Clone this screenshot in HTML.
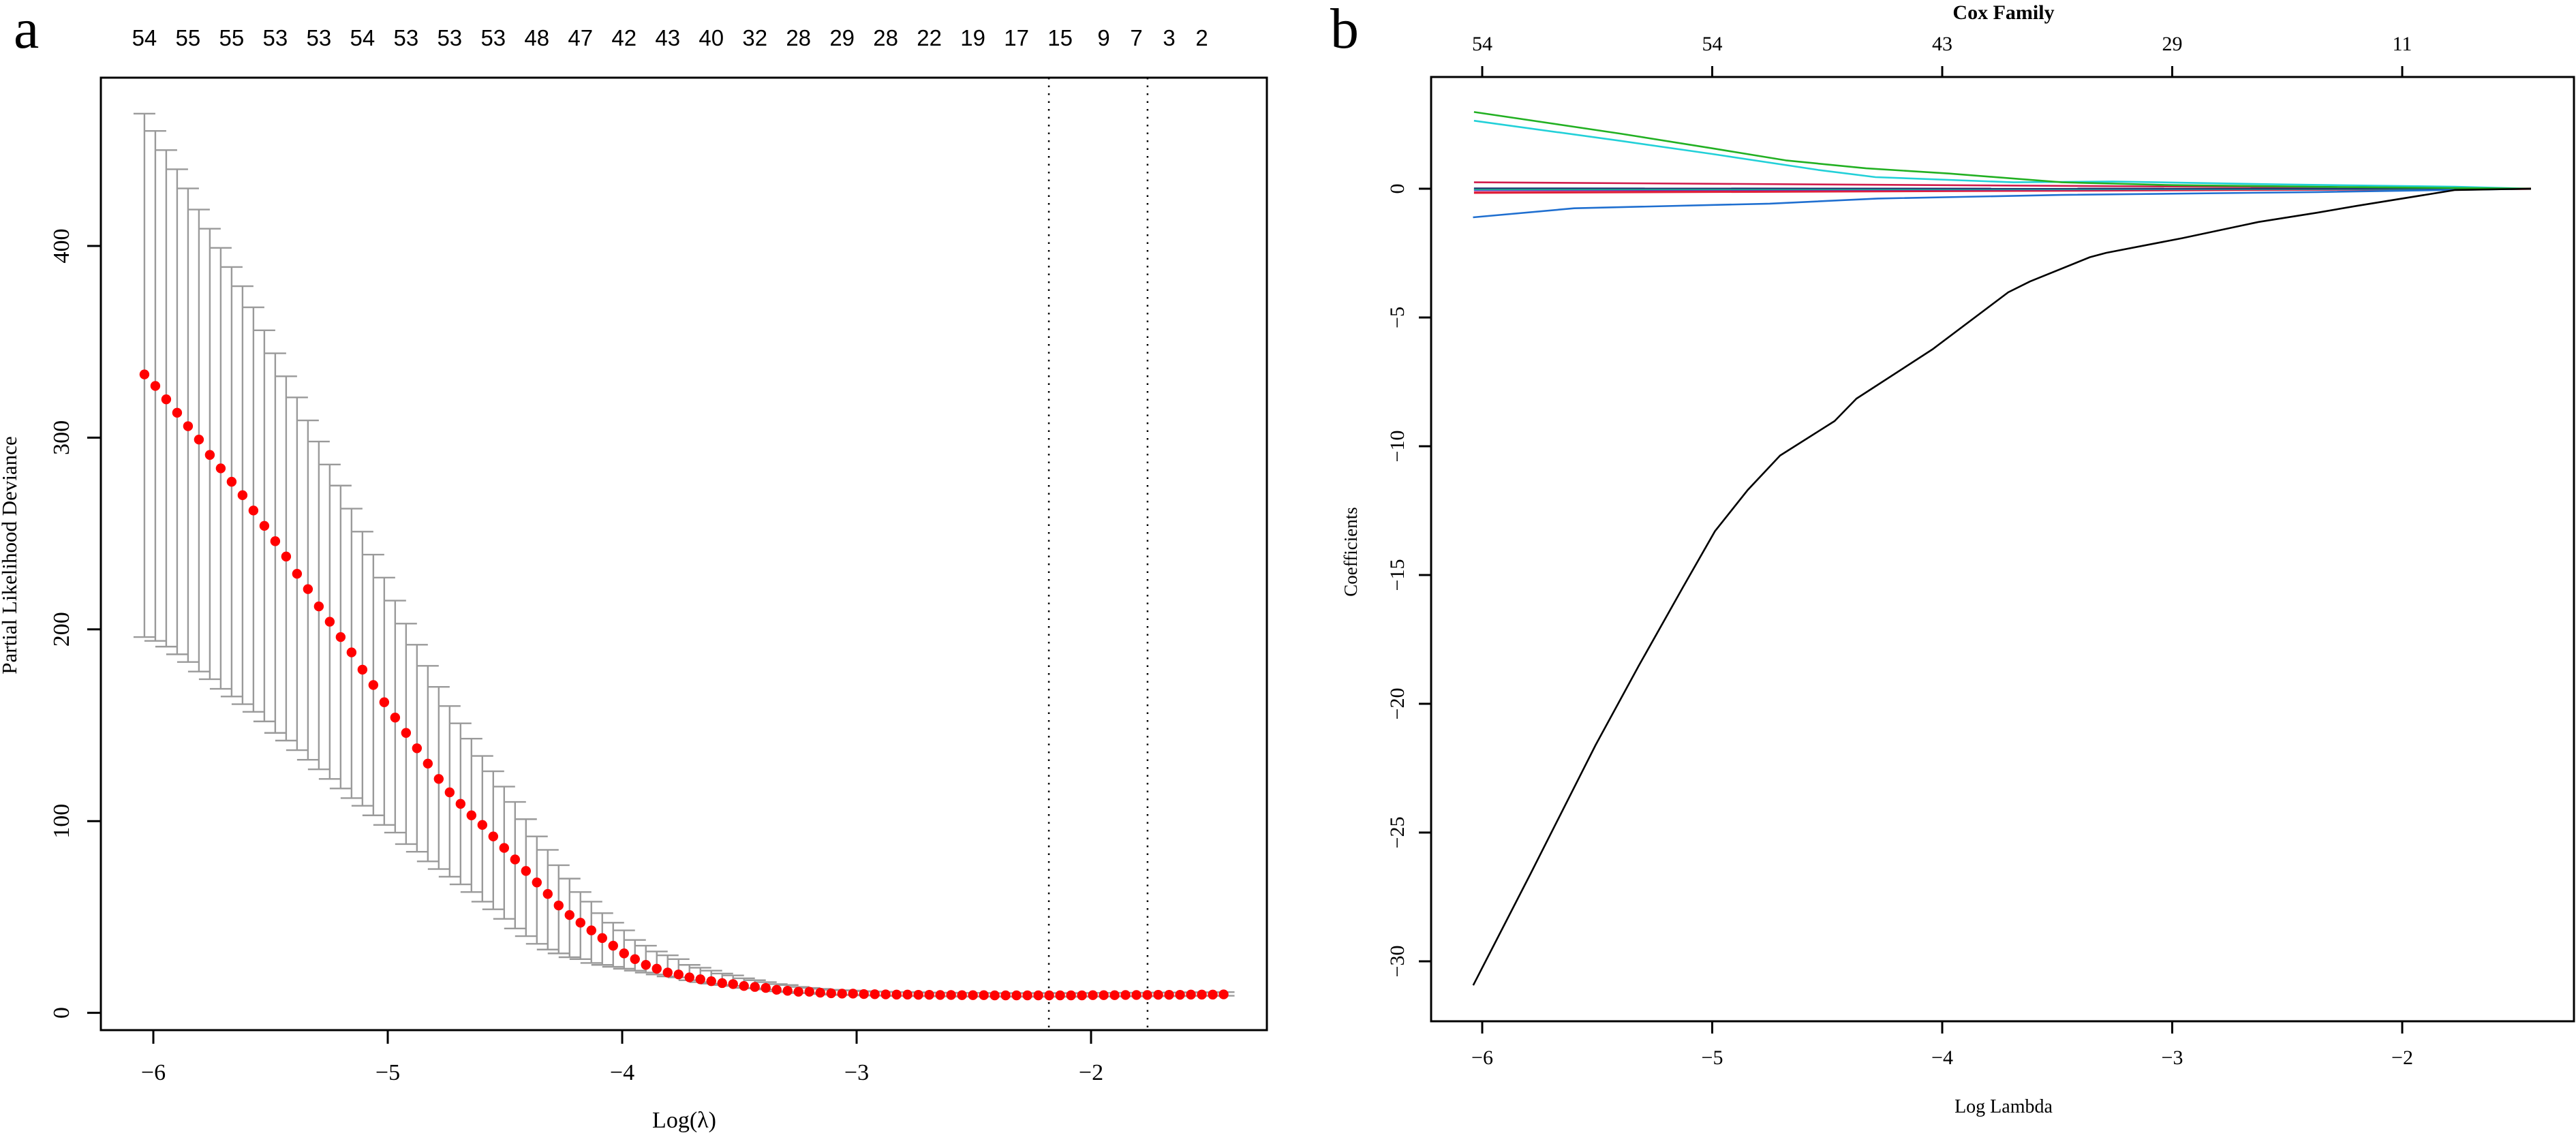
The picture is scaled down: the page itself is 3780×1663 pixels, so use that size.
<!DOCTYPE html>
<html><head><meta charset="utf-8"><style>
html,body{margin:0;padding:0;background:#fff;}
svg{display:block;}
.serif{font-family:"Liberation Serif",serif;}
.sans{font-family:"Liberation Sans",sans-serif;}
</style></head>
<body>
<svg id="fig" width="3780" height="1663" viewBox="0 0 3780 1663" xmlns="http://www.w3.org/2000/svg">
<rect width="3780" height="1663" fill="#fff"/>
<text x="20" y="70" class="serif" font-size="84">a</text>
<text x="1952" y="70" class="serif" font-size="84">b</text>
<g id="pa"></g>
<g id="pb"></g>
</svg>
<script>
// ---------- Panel A data ----------
const aStart = -6.038;
const aStep = 0.0465;
const aMean = [333,327,320,313,306,299,291,284,277,270,262,254,246,238,229,221,212,204,196,188,179,171,162,154,146,138,130,122,115,109,103,98,92,86,80,74,68,62,56,51,47,43,39,35,31,28,25,23,21,20,18.5,17.5,16.5,15.5,15,14,13.5,13,12,11.5,11,11,10.5,10.2,10,10,9.8,9.7,9.6,9.5,9.5,9.4,9.4,9.3,9.3,9.2,9.2,9.2,9.1,9.1,9.1,9.1,9.1,9.1,9.1,9.1,9.1,9.2,9.2,9.2,9.3,9.3,9.3,9.4,9.4,9.4,9.5,9.5,9.5,9.6];
const aUpper = [469,460,450,440,430,419,409,399,389,379,368,356,344,332,321,309,298,286,275,263,251,239,227,215,203,192,181,170,160,151,143,134,126,118,110,101,92,85,77,70,63,58,52,47,43,38,35,32,30,28,25,23.5,22,20.5,19.5,18,17,16,15,14.5,13.5,13,12.5,12,11.8,11.6,11.3,11.1,11,10.8,10.8,10.7,10.6,10.5,10.5,10.4,10.4,10.4,10.3,10.3,10.3,10.3,10.3,10.3,10.3,10.3,10.3,10.4,10.4,10.4,10.5,10.5,10.5,10.6,10.6,10.6,10.7,10.7,10.7,10.8];
const aLower = [196,194,191,187,183,178,174,169,165,161,157,152,146,142,137,132,127,122,117,112,108,103,98,94,88,84,79,75,71,67,63,58,54,49,44,40,36,33,31,29,28,26,25,24,23,22,21,20,19,18.5,17,16,15.2,14.5,14,13,12.7,12.2,11.2,10.8,10.3,10.3,9.8,9.5,9.3,9.3,9.1,9.0,8.9,8.8,8.8,8.7,8.7,8.6,8.6,8.5,8.5,8.5,8.4,8.4,8.4,8.4,8.4,8.4,8.4,8.4,8.4,8.5,8.5,8.5,8.6,8.6,8.6,8.7,8.7,8.7,8.8,8.8,8.8,8.9];
const aTopIdx = [0,4,8,12,16,20,24,28,32,36,40,44,48,52,56,60,64,68,72,76,80,84,88,91,94,97];
const aTopLabels = ["54","55","55","53","53","54","53","53","53","48","47","42","43","40","32","28","29","28","22","19","17","15","9","7","3","2"];
const aXTicks = [-6,-5,-4,-3,-2];
const aYTicks = [0,100,200,300,400];
const aVLines = [-2.180,-1.759];

// ---------- Panel B data ----------
const bBlackX = [-6.039,-5.79,-5.507,-5.318,-5.129,-4.988,-4.846,-4.705,-4.468,-4.373,-4.043,-3.713,-3.618,-3.358,-3.287,-2.957,-2.625,-2.37,-2.20,-1.77,-1.44];
const bBlackY = [-30.93,-26.6,-21.6,-18.5,-15.5,-13.3,-11.7,-10.36,-9.02,-8.15,-6.24,-4.02,-3.6,-2.66,-2.49,-1.92,-1.29,-0.93,-0.67,-0.05,0];
const bGreenX = [-6.036,-5.40,-5.0,-4.68,-4.33,-3.97,-3.48,-3.0,-2.2,-1.44];
const bGreenY = [2.98,2.14,1.57,1.10,0.79,0.59,0.25,0.14,0.06,0];
const bCyanX = [-6.036,-5.40,-5.0,-4.54,-4.29,-3.69,-3.26,-2.55,-1.77,-1.44];
const bCyanY = [2.64,1.86,1.35,0.73,0.45,0.25,0.28,0.17,0.08,0];
const bBlueX = [-6.04,-5.6,-4.75,-4.28,-3.48,-2.37,-1.44];
const bBlueY = [-1.11,-0.76,-0.58,-0.38,-0.24,-0.13,0];
const bRedX = [-6.036,-1.44];
const bRedUpperY = [0.25,0];
const bRedLowerY = [-0.15,0];
const bPurpleY = [-0.05,0];
const bTealY = [-0.02,0];
const bNavyY = [0.02,0];
const bXTicks = [-6,-5,-4,-3,-2];
const bYTicks = [0,-5,-10,-15,-20,-25,-30];
const bTopTicks = [-6,-5,-4,-3,-2];
const bTopLabels = ["54","54","43","29","11"];

const NS = "http://www.w3.org/2000/svg";
function mk(parent, tag, attrs, text){
  const e = document.createElementNS(NS, tag);
  for (const k in attrs) e.setAttribute(k, attrs[k]);
  if (text !== undefined) e.textContent = text;
  parent.appendChild(e);
  return e;
}

// ---------- Panel A ----------
const pa = document.getElementById('pa');
const A = {l:148, r:1859, t:114, b:1512};
const ax = v => 225 + (v + 6) * 344;
const ay = v => 1486.6 - v * 2.814;

aMean.forEach((m, i) => {
  const x = ax(aStart + i * aStep);
  const g = mk(pa, 'g', {});
  
  
  mk(g, 'line', {x1:x, x2:x, y1:ay(aLower[i]), y2:ay(aUpper[i]), stroke:'#9a9a9a', 'stroke-width':2.4});
  mk(g, 'line', {x1:x-16, x2:x+16, y1:ay(aUpper[i]), y2:ay(aUpper[i]), stroke:'#9a9a9a', 'stroke-width':2.4});
  mk(g, 'line', {x1:x-16, x2:x+16, y1:ay(aLower[i]), y2:ay(aLower[i]), stroke:'#9a9a9a', 'stroke-width':2.4});
});
aVLines.forEach(v => {
  const l = mk(pa, 'line', {x1:ax(v), x2:ax(v), y1:A.t, y2:A.b, stroke:'#000', 'stroke-width':2.5, 'stroke-dasharray':'2.5 9'});
  
  
});
aMean.forEach((m, i) => {
  const c = mk(pa, 'circle', {cx:ax(aStart + i * aStep), cy:ay(m), r:7.2, fill:'#f00'});
  
  
});
const fa = mk(pa, 'rect', {x:A.l, y:A.t, width:A.r-A.l, height:A.b-A.t, fill:'none', stroke:'#000', 'stroke-width':3});


aXTicks.forEach(v => {
  const x = ax(v);
  mk(pa, 'line', {x1:x, x2:x, y1:A.b, y2:A.b+20, stroke:'#000', 'stroke-width':3});
  const t = mk(pa, 'text', {x:x, y:1585, 'text-anchor':'middle', class:'serif', 'font-size':34}, '\u2212' + Math.abs(v));
  
  
});
aYTicks.forEach(v => {
  const y = ay(v);
  mk(pa, 'line', {x1:A.l-20, x2:A.l, y1:y, y2:y, stroke:'#000', 'stroke-width':3});
  const t = mk(pa, 'text', {x:0, y:0, 'text-anchor':'middle', class:'serif', 'font-size':34, transform:`translate(101 ${y}) rotate(-90)`}, String(v));
  
  
});
aTopIdx.forEach((idx, k) => {
  const t = mk(pa, 'text', {x:ax(aStart + idx * aStep), y:67, 'text-anchor':'middle', class:'sans', 'font-size':33}, aTopLabels[k]);
  
  
});
const axl = mk(pa, 'text', {x:1004, y:1655, 'text-anchor':'middle', class:'serif', 'font-size':34}, 'Log(\u03bb)');


const ayl = mk(pa, 'text', {x:0, y:0, 'text-anchor':'middle', class:'serif', 'font-size':31, transform:'translate(24 815) rotate(-90)'}, 'Partial Likelihood Deviance');



// ---------- Panel B ----------
const pb = document.getElementById('pb');
const B = {l:2100, r:3777, t:113, b:1499};
const bx = v => 2175 + (v + 6) * 337.5;
const by = v => 277 - v * 37.8;
function path(xs, ys, color, name, w){
  const d = xs.map((x, i) => (i ? 'L' : 'M') + bx(x).toFixed(1) + ' ' + by(ys[i]).toFixed(1)).join(' ');
  const p = mk(pb, 'path', {d:d, fill:'none', stroke:color, 'stroke-width':w || 2.6, 'stroke-linejoin':'round'});
  
  
}
path(bRedX, bRedUpperY, '#d01c4b', 'coef-path-red-upper');
path(bRedX, bRedLowerY, '#e0203a', 'coef-path-red-lower', 3.5);
path(bRedX, bPurpleY, '#5a2ad0', 'coef-path-purple', 3);
path(bRedX, bTealY, '#20b090', 'coef-path-teal', 3);
path(bRedX, bNavyY, '#203070', 'coef-path-navy', 2);
path(bBlueX, bBlueY, '#1f6fd0', 'coef-path-blue');
path(bCyanX, bCyanY, '#22d0d8', 'coef-path-cyan');
path(bGreenX, bGreenY, '#22b022', 'coef-path-green');
path(bBlackX, bBlackY, '#000', 'coef-path-black');
const fb = mk(pb, 'rect', {x:B.l, y:B.t, width:B.r-B.l, height:B.b-B.t, fill:'none', stroke:'#000', 'stroke-width':3});


bXTicks.forEach(v => {
  const x = bx(v);
  mk(pb, 'line', {x1:x, x2:x, y1:B.b, y2:B.b+18, stroke:'#000', 'stroke-width':3});
  const t = mk(pb, 'text', {x:x, y:1562, 'text-anchor':'middle', class:'serif', 'font-size':30}, '\u2212' + Math.abs(v));
  
  
});
bTopTicks.forEach((v, k) => {
  const x = bx(v);
  mk(pb, 'line', {x1:x, x2:x, y1:B.t-16, y2:B.t, stroke:'#000', 'stroke-width':3});
  const t = mk(pb, 'text', {x:x, y:74, 'text-anchor':'middle', class:'serif', 'font-size':30}, bTopLabels[k]);
  
  
});
bYTicks.forEach(v => {
  const y = by(v);
  mk(pb, 'line', {x1:B.l-18, x2:B.l, y1:y, y2:y, stroke:'#000', 'stroke-width':3});
  const t = mk(pb, 'text', {x:0, y:0, 'text-anchor':'middle', class:'serif', 'font-size':30, transform:`translate(2060 ${y}) rotate(-90)`}, v === 0 ? '0' : '\u2212' + Math.abs(v));
  
  
});
const bt = mk(pb, 'text', {x:2940, y:28, 'text-anchor':'middle', class:'serif', 'font-size':30, 'font-weight':'bold'}, 'Cox Family');


const bxl = mk(pb, 'text', {x:2940, y:1633, 'text-anchor':'middle', class:'serif', 'font-size':28}, 'Log Lambda');


const byl = mk(pb, 'text', {x:0, y:0, 'text-anchor':'middle', class:'serif', 'font-size':27, transform:'translate(1991 810) rotate(-90)'}, 'Coefficients');


</script>
</body></html>
